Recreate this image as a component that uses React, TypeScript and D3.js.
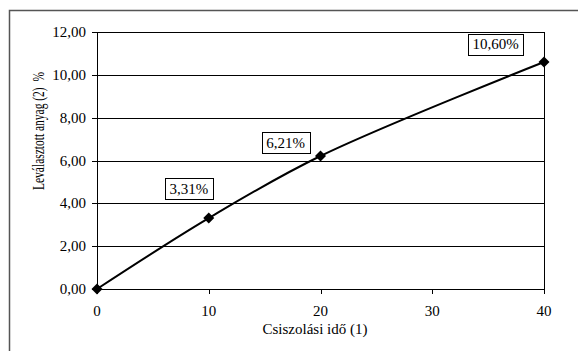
import React from "react";
import * as d3 from "d3";

const times = [0, 10, 20, 40];
const removed = [0, 3.31, 6.21, 10.6];
const pointLabels = ["", "3,31%", "6,21%", "10,60%"];
const yTicks = [0, 2, 4, 6, 8, 10, 12];
const xTicks = [0, 10, 20, 30, 40];
// label box offsets relative to point (center x, bottom y)
const labelOffsets: [number, number][] = [[0, 0], [-20, -19], [-35, -3], [-48.5, -7]];

const W = 578, H = 351;
const M = { left: 97, top: 32, right: 544, bottom: 289 };
const FONT = "Liberation Serif, Times New Roman, Times, serif";
const FS = 15;

const charW: Record<string, number> = { ",": 250, "%": 833 };
const textW = (s: string) => s.split("").reduce((a, c) => a + (charW[c] ?? 500), 0) * FS / 1000;

export default function App() {
  const x = d3.scaleLinear().domain([0, 40]).range([M.left, M.right]);
  const y = d3.scaleLinear().domain([0, 12]).range([M.bottom, M.top]);
  const pts = times.map((t, i) => [x(t), y(removed[i])] as [number, number]);
  const line = d3.line().curve(d3.curveCatmullRom.alpha(0.5))(pts) || "";
  const fmt = (v: number) => v.toFixed(2).replace(".", ",");
  return (
    <svg width={W} height={H} style={{ position: "absolute", left: 0, top: 0, background: "#fff", fontFamily: FONT }}>
      <rect x={9.5} y={10.5} width={W + 10} height={H + 10} fill="#fff" stroke="#555" strokeWidth={1.5} />
      {yTicks.map((t) => (
        <g key={t}>
          <line x1={M.left - 5} x2={M.right} y1={Math.round(y(t)) + 0.5} y2={Math.round(y(t)) + 0.5} stroke="#000" strokeWidth={1} />
          <text x={86} y={y(t) + 5} textAnchor="end" fontSize={FS} fill="#000">{fmt(t)}</text>
        </g>
      ))}
      <line x1={M.left + 0.5} x2={M.left + 0.5} y1={M.top} y2={M.bottom + 5} stroke="#000" />
      <line x1={M.right + 0.5} x2={M.right + 0.5} y1={M.top} y2={M.bottom + 5} stroke="#000" />
      {xTicks.map((t) => (
        <g key={t}>
          <line x1={Math.round(x(t)) + 0.5} x2={Math.round(x(t)) + 0.5} y1={M.bottom} y2={M.bottom + 5} stroke="#000" />
          <text x={x(t)} y={316} textAnchor="middle" fontSize={FS} fill="#000">{t}</text>
        </g>
      ))}
      <path d={line} fill="none" stroke="#000" strokeWidth={2} />
      {pts.map(([px, py], i) => (
        <path key={i} d="M0,-5.5L5.5,0L0,5.5L-5.5,0Z" transform={`translate(${px},${py})`} fill="#000" />
      ))}
      {pts.map(([px, py], i) => {
        if (!pointLabels[i]) return null;
        const w = Math.round(textW(pointLabels[i]) + 9);
        const cx = px + labelOffsets[i][0];
        const by = py + labelOffsets[i][1];
        return (
          <g key={"l" + i}>
            <rect x={Math.round(cx - w / 2) + 0.5} y={Math.round(by - 21) + 0.5} width={w} height={21} fill="#fff" stroke="#000" />
            <text x={cx} y={by - 5.5} textAnchor="middle" fontSize={FS} fill="#000">{pointLabels[i]}</text>
          </g>
        );
      })}
      <text x={315} y={334} textAnchor="middle" fontSize={FS} fill="#000">Csiszolási idő (1)</text>
      <text transform={`translate(44,131) rotate(-90)`} textAnchor="middle" fontSize={17} fill="#000"
        textLength={118} lengthAdjust="spacingAndGlyphs" style={{ whiteSpace: "pre" }}>Leválasztott anyag (2)  %</text>
    </svg>
  );
}
